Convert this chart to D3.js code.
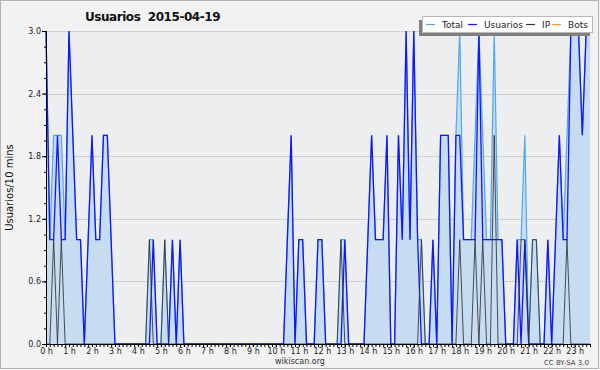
<!DOCTYPE html>
<html>
<head>
<meta charset="utf-8">
<script src="https://cdnjs.cloudflare.com/ajax/libs/d3/7.8.5/d3.min.js"></script>
<style>
  html, body { margin: 0; padding: 0; background: #f2f2f2; }
  svg { display: block; font-family: "DejaVu Sans", sans-serif; }
</style>
</head>
<body>
<div id="chart"></div>
<script>
// valores por intervalo de 10 min (0:00 ... 23:40)
var total = [3,1,2,2,2,1,3,2,1,1,0,1,2,1,1,2,2,1,0,0,0,0,0,0,0,0,0,1,1,0,0,1,0,1,0,1,
  0,0,0,0,0,0,0,0,0,0,0,0,0,0,0,0,0,0,0,0,0,0,0,0,0,0,
  0,1,2,0,1,1,0,0,0,1,1,0,0,0,0,1,1,0,0,0,0,0,1,2,1,1,1,2,0,0,2,1,3,1,3,1,1,0,0,1,0,
  2,2,2,0,2,3,1,1,1,2,3,2,1,1,3,1,1,0,0,0,1,1,2,0,1,1,0,0,1,0,1,2,1,2,3,3,3,2,3,3];
var usuarios = [3,1,1,2,1,1,3,2,1,1,0,1,2,1,1,2,2,1,0,0,0,0,0,0,0,0,0,0,1,0,0,0,0,1,0,1,
  0,0,0,0,0,0,0,0,0,0,0,0,0,0,0,0,0,0,0,0,0,0,0,0,0,0,
  0,1,2,0,1,1,0,0,0,1,1,0,0,0,0,0,1,0,0,0,0,0,1,2,1,1,1,2,0,0,2,1,3,1,3,1,0,0,0,1,0,
  2,2,2,0,2,2,1,1,1,1,3,1,1,1,1,1,1,0,0,0,1,0,1,0,0,0,0,0,1,0,1,2,1,1,3,3,3,2,3,3];
var ip = [0,0,1,0,1,0,0,0,0,0,0,0,0,0,0,0,0,0,0,0,0,0,0,0,0,0,0,1,0,0,0,1,0,0,0,0,
  0,0,0,0,0,0,0,0,0,0,0,0,0,0,0,0,0,0,0,0,0,0,0,0,0,0,
  0,0,0,0,0,0,0,0,0,0,0,0,0,0,0,1,0,0,0,0,0,0,0,0,0,0,0,0,0,0,0,0,0,0,0,0,1,0,0,0,0,
  0,0,0,0,0,1,0,0,0,1,0,1,0,0,2,0,0,0,0,0,0,1,1,0,1,1,0,0,0,0,0,0,0,1,0,0,0,0,0,0];

var hourLabels = ["0 h","1 h","2 h","3 h","4 h","5 h","6 h","7 h","8 h","9 h","10 h","11 h",
  "12 h","13 h","14 h","15 h","16 h","17 h","18 h","19 h","20 h","21 h","22 h","23 h"];
var yTicks = [0, 0.6, 1.2, 1.8, 2.4, 3.0];
var legendNames = ["Total", "Usuarios", "IP", "Bots"];
var legendColors = ["#4fa8f0", "#1414ff", "#333333", "#ff9a1a"];

var W = 600, H = 370;
var margin = {left: 46, right: 10, top: 31, bottom: 26};
var x0 = margin.left, x1 = W - margin.right, y0 = H - margin.bottom, y1 = margin.top;

var svg = d3.select("#chart").append("svg")
    .attr("width", W)
    .attr("height", H);

// fondo + borde
svg.append("rect")
    .attr("x", 0.5).attr("y", 0.5)
    .attr("width", W - 2).attr("height", H - 2)
    .attr("fill", "#f2f2f2")
    .attr("stroke", "#b4b4b4");

svg.append("rect")
    .attr("x", x0).attr("y", y1)
    .attr("width", x1 - x0).attr("height", y0 - y1)
    .attr("fill", "#edeef0");

var x = d3.scaleLinear().domain([0, total.length - 1]).range([x0, x1]);
var y = d3.scaleLinear().domain([0, 3]).range([y0, y1]);

// rejilla
svg.append("g").selectAll("line")
    .data(yTicks.slice(1))
    .enter().append("line")
    .attr("x1", x0).attr("x2", x1)
    .attr("y1", function(d) { return Math.round(y(d)) + 0.5; })
    .attr("y2", function(d) { return Math.round(y(d)) + 0.5; })
    .attr("stroke", "#cfcfcf");

var area = d3.area()
    .x(function(d, i) { return x(i); })
    .y0(y(0))
    .y1(function(d) { return y(d); });

var line = d3.line()
    .x(function(d, i) { return x(i); })
    .y(function(d) { return y(d); });

svg.append("path")
    .datum(total)
    .attr("fill", "#c6dcf0")
    .attr("d", area);

svg.append("path")
    .datum(total)
    .attr("fill", "none")
    .attr("stroke", legendColors[0])
    .attr("stroke-width", 1.2)
    .attr("d", line);

svg.append("path")
    .datum(usuarios)
    .attr("fill", "none")
    .attr("stroke", legendColors[1])
    .attr("stroke-width", 1.3)
    .attr("d", line);

svg.append("path")
    .datum(ip)
    .attr("fill", "none")
    .attr("stroke", legendColors[2])
    .attr("stroke-opacity", 0.85)
    .attr("stroke-width", 1)
    .attr("d", line);

// eje y
var yAxis = svg.append("g")
    .attr("transform", "translate(" + x0 + ",0)")
    .call(d3.axisLeft(y).tickValues(d3.range(0, 3.01, 0.15)).tickSize(2).tickFormat(""));
yAxis.call(function(g) { g.select(".domain").remove(); });

var yAxis2 = svg.append("g")
    .attr("transform", "translate(" + x0 + ",0)")
    .call(d3.axisLeft(y).tickValues(yTicks).tickSize(4).tickPadding(1).tickFormat(d3.format(".1f")));
yAxis2.selectAll("text").attr("font-size", "8px").attr("fill", "#222").attr("font-family", "DejaVu Sans");

// eje x
var xAxis = svg.append("g")
    .attr("transform", "translate(0," + y0 + ")")
    .call(d3.axisBottom(x).tickValues(d3.range(0, total.length)).tickSize(3).tickFormat(""));
xAxis.select(".domain").remove();

var xAxis2 = svg.append("g")
    .attr("transform", "translate(0," + y0 + ")")
    .call(d3.axisBottom(x).tickValues(d3.range(0, total.length, 6)).tickSize(3).tickPadding(1)
        .tickFormat(function(d) { return hourLabels[d / 6]; }));
xAxis2.selectAll("text").attr("font-size", "8px").attr("fill", "#222").attr("font-family", "DejaVu Sans");

svg.append("line")
    .attr("x1", x0 + 0.5).attr("x2", x0 + 0.5)
    .attr("y1", y1).attr("y2", y0)
    .attr("stroke", "#000");
svg.append("line")
    .attr("x1", x0).attr("x2", x1)
    .attr("y1", y0 + 0.5).attr("y2", y0 + 0.5)
    .attr("stroke", "#000");

// textos
svg.append("text")
    .attr("x", 85).attr("y", 21)
    .attr("font-size", "12px")
    .attr("font-weight", "bold")
    .attr("letter-spacing", "-0.45px")
    .attr("fill", "#111")
    .style("white-space", "pre")
    .text("Usuarios  2015-04-19");

svg.append("text")
    .attr("transform", "translate(13," + ((y0 + y1) / 2) + ") rotate(-90)")
    .attr("text-anchor", "middle")
    .attr("font-size", "10px")
    .attr("fill", "#111")
    .text("Usuarios/10 mins");

svg.append("text")
    .attr("x", 300).attr("y", 364)
    .attr("text-anchor", "middle")
    .attr("font-size", "8px")
    .attr("fill", "#333")
    .text("wikiscan.org");

svg.append("text")
    .attr("x", 589).attr("y", 365)
    .attr("text-anchor", "end")
    .attr("font-size", "7px")
    .attr("fill", "#444")
    .text("CC BY-SA 3.0");

// leyenda
var lg = svg.append("g");
lg.append("rect")
    .attr("x", 419).attr("y", 20)
    .attr("width", 171).attr("height", 16)
    .attr("fill", "#808080");
lg.append("rect")
    .attr("x", 422.5).attr("y", 16.5)
    .attr("width", 170).attr("height", 16)
    .attr("fill", "#fff")
    .attr("stroke", "#b8b8b8");

var legendX = [426, 468, 526, 552];
var items = lg.selectAll("g.item")
    .data(legendNames)
    .enter().append("g")
    .attr("class", "item")
    .attr("transform", function(d, i) { return "translate(" + legendX[i] + ",0)"; });
items.append("line")
    .attr("x1", 0).attr("x2", 9)
    .attr("y1", 24.5).attr("y2", 24.5)
    .attr("stroke", function(d, i) { return legendColors[i]; })
    .attr("stroke-width", 1.2);
items.append("text")
    .attr("x", 16)
    .attr("y", 28)
    .attr("font-size", "9px")
    .attr("fill", "#222")
    .text(function(d) { return d; });
</script>
</body>
</html>
